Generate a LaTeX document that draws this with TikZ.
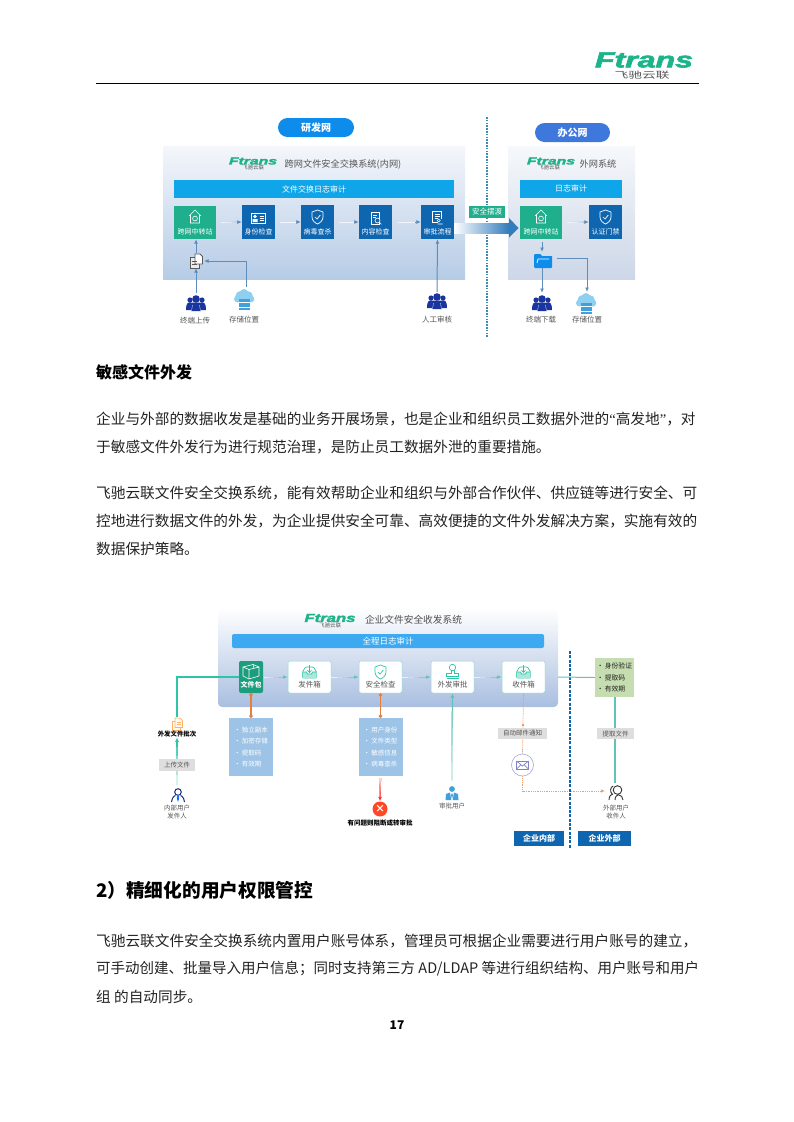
\documentclass[tikz,border=0pt]{standalone}
\usepackage{fontspec}
\usepackage{graphicx}
\setmainfont{Noto Sans CJK SC}
\newfontfamily\logofont[FakeBold=2.5,UprightFont={* Bold Italic}]{Liberation Sans}
\newfontfamily\serifq{Liberation Serif}
\usetikzlibrary{arrows.meta,calc,shapes.geometric}
\definecolor{ftgreen}{HTML}{1DB48A}
\definecolor{boxgreen}{HTML}{1FAF8C}
\definecolor{boxblue}{HTML}{0F66B0}
\definecolor{barblue}{HTML}{0FA5E9}
\definecolor{navy}{HTML}{1A35A0}
\definecolor{teal1}{HTML}{2EC4A6}
\definecolor{teal2}{HTML}{62C3B8}
\definecolor{arrowblue}{HTML}{5F8DBB}
\definecolor{orange1}{HTML}{E67E3C}
\definecolor{listblue}{HTML}{9DC3E6}
\definecolor{greybox}{HTML}{DEDEDE}
\definecolor{txt}{HTML}{222222}
\definecolor{soft}{HTML}{555555}
\definecolor{cloudc}{HTML}{8FD0F0}
\definecolor{stripec}{HTML}{3FA0DC}
\newcommand{\px}[1]{\fontsize{#1pt}{#1pt}\selectfont}
\newcommand{\ftlogo}[2]{\resizebox{#1pt}{#2pt}{\logofont Ftrans}}
% gradient connector: options, from, to, colour, background
\newcommand{\fadearrow}[5][]{%
  \draw[#1,-{Latex[length=4.5pt,width=4pt]},color=#4] (#2) -- (#3);
  \foreach \t/\p in {0.8/80,0.6/60,0.4/40,0.2/20}{
    \draw[#1,color=#4!\p!#5] (#2) -- ($(#2)!\t!(#3)$);
  }%
}
\tikzset{
  body/.style={anchor=west,inner sep=0pt,font=\px{14.66},text=txt},
  pill/.style={rounded corners=9.5pt,text=white,font=\px{10}\bfseries,minimum height=19pt,inner sep=0pt},
  blockbar/.style={text=white,font=\px{8},inner sep=0pt,minimum height=18pt},
  gbox/.style={fill=boxgreen,text=white,font=\px{7},inner sep=0pt,minimum width=42pt,minimum height=33pt},
  bbox/.style={fill=boxblue,text=white,font=\px{7},inner sep=0pt,minimum width=33pt,minimum height=34pt},
  wbox/.style={fill=white,draw=teal2!70,line width=.5pt,rounded corners=2pt,text=soft,font=\px{7.5},inner sep=0pt,minimum width=43pt,minimum height=32pt},
  lab/.style={font=\px{7.5},text=soft,inner sep=0pt},
  lab2/.style={font=\px{6.5},text=soft,inner sep=0pt,align=center},
  greytag/.style={fill=greybox,font=\px{6.5},text=soft,inner sep=0pt},
  listbox/.style={fill=listblue,text=white,font=\px{6.5},inner sep=0pt,minimum width=44pt,minimum height=58pt,align=left},
  connb/.style={line width=.7pt,color=arrowblue},
  orangedot/.style={dash pattern=on 1pt off .8pt,line width=.7pt,color=orange1!75!white},
  iconw/.style={draw=white,line width=.6pt,fill=none},
  houseicon/.pic={
    \draw[iconw] (-6,-1) -- (0,-7) -- (6,-1) (-4.5,-2) -- (-4.5,6) -- (4.5,6) -- (4.5,-2);
    \draw[iconw] (0,1.5) circle (2.4);
  },
  idicon/.pic={
    \draw[iconw] (-7,-5) rectangle (7,5);
    \fill[white] (-3.5,-1.5) circle (1.8) (-6,4) rectangle (-1,1);
    \draw[iconw] (1,-2) -- (5,-2) (1,0) -- (5,0) (1,2) -- (5,2);
  },
  shieldicon/.pic={
    \draw[pic actions,line width=.7pt,fill=none] (0,-7) -- (5.5,-5) -- (5.5,0) .. controls (5.5,4) and (2,6) .. (0,7) .. controls (-2,6) and (-5.5,4) .. (-5.5,0) -- (-5.5,-5) -- cycle;
    \draw[pic actions,line width=.7pt,fill=none] (-2.5,0) -- (-.5,2) -- (2.8,-2);
  },
  docicon/.pic={
    \draw[iconw] (-4.5,-6) rectangle (3.5,6);
    \draw[iconw] (-2.5,-3) -- (1.5,-3) (-2.5,-.5) -- (.5,-.5);
    \draw[iconw,fill=boxblue] (2,2.5) circle (2.5);
    \draw[iconw] (3.8,4.3) -- (5.8,6.3);
  },
  procicon/.pic={
    \draw[iconw] (-5,-6) rectangle (4,5);
    \draw[iconw] (-3,-3.5) -- (2,-3.5) (-3,-1.2) -- (2,-1.2) (-3,1) -- (0,1);
    \fill[boxblue] (0,1) rectangle (6,7);
    \draw[iconw] (1.3,3) circle (1.5) (0,6.5) -- (5,6.5);
  },
  userdark/.pic={
    \fill[navy] (-6,-3) circle (2.6) (6,-3) circle (2.6);
    \fill[navy] (-10,7) .. controls (-10,0) and (-8,-1) .. (-5,-.5) -- (5,-.5) .. controls (8,-1) and (10,0) .. (10,7) -- cycle;
    \fill[navy] (0,-4) circle (3.8);
    \fill[navy] (-5,8) .. controls (-5,1) and (-3,-.2) .. (0,-.2) .. controls (3,-.2) and (5,1) .. (5,8) -- cycle;
    \draw[white,line width=.3pt] (-4.5,8) -- (-3.5,2) (4.5,8) -- (3.5,2);
  },
  storeicon/.pic={
    \fill[cloudc] (-3.5,-4) circle (5) (3.5,-3.5) circle (5.5) (0,-7) circle (4) (-6.5,-1) circle (3.5) (6.8,-1) circle (3.5);
    \fill[stripec] (-5.5,-1.5) rectangle (5.5,2);
    \fill[stripec] (-5.5,3) rectangle (5.5,6.5);
    \fill[stripec] (-5.5,7.5) rectangle (5.5,10);
  },
  fileicon/.pic={
    \draw[line width=.8pt,draw=gray!70!black,fill=gray!15] (-6,-4) rectangle (3,7);
    \draw[line width=.8pt,draw=gray!70!black,fill=white] (-1,-7) -- (4,-7) -- (6.5,-4.5) -- (6.5,3) -- (-1,3) -- cycle;
    \draw[gray!70!black,line width=.6pt] (-4,0) -- (1,0) (-4,3) -- (1,3);
  },
  foldericon/.pic={
    \fill[barblue!85!blue] (-9,-7) -- (-3,-7) -- (-1,-5) -- (9,-5) [rounded corners=1pt] -- (9,7) -- (-9,7) -- cycle;
    \draw[white,line width=.8pt] (-6,2) -- (-5,-2) -- (6,-2);
  },
  boxicon/.pic={
    \draw[iconw] (-8,-5) -- (2,-7.5) -- (8,-5) -- (8,4) -- (-2,7) -- (-8,4) -- cycle;
    \draw[iconw] (-8,-5) -- (-2,-2.5) -- (8,-5) (-2,-2.5) -- (-2,7) (2,-7.5) -- (3,-3.6);
  },
  trayicon/.pic={
    \draw[teal1,line width=.7pt,rounded corners=1pt] (-7,0) -- (-4,-5) -- (4,-5) -- (7,0) -- (7,6) -- (-7,6) -- cycle;
    \fill[teal1!40] (-7,0) -- (-3,0) -- (-2,2) -- (2,2) -- (3,0) -- (7,0) -- (7,6) -- (-7,6) -- cycle;
    \draw[teal1,line width=.7pt] (-7,0) -- (-3,0) -- (-2,2) -- (2,2) -- (3,0) -- (7,0);
    \draw[teal1,line width=.7pt] (0,-7) -- (0,.5) (-2,-1.8) -- (0,.5) -- (2,-1.8);
  },
  stampicon/.pic={
    \draw[teal1,line width=.7pt] (0,-3.5) circle (3.2);
    \draw[teal1,line width=.7pt] (-1.5,-.7) -- (-1.5,2) -- (-6,2) -- (-6,5) -- (6,5) -- (6,2) -- (1.5,2) -- (1.5,-.7);
    \draw[teal1,line width=.7pt] (-6,7) -- (6,7);
  },
  person/.pic={
    \draw[line width=1pt,draw=navy!80!black] (0,-3) circle (3.3);
    \draw[line width=1pt,draw=navy!80!black] (-6.5,7) .. controls (-6,2) and (-3,.5) .. (-2.5,.5) (6.5,7) .. controls (6,2) and (3,.5) .. (2.5,.5);
    \fill[blue!60!cyan] (0,2) circle (1.3) (-1.2,3) -- (1.2,3) -- (0,7) -- cycle;
  },
  approver/.pic={
    \fill[stripec] (0,-4) circle (2.9);
    \fill[stripec] (-6.5,7) -- (-6,1) -- (-2,-.5) -- (-.7,7) -- cycle (6.5,7) -- (6,1) -- (2,-.5) -- (.7,7) -- cycle;
    \fill[stripec] (0,0) -- (-1,2) -- (0,6) -- (1,2) -- cycle;
  },
  outperson/.pic={
    \draw[line width=.9pt,draw=black!80] (1.5,-3) circle (4.3);
    \draw[line width=.9pt,draw=black!80] (-2.8,-7) .. controls (-6,-6) and (-6,-1) .. (-4,1) (-7,7) .. controls (-7,3) and (-5,1) .. (-3,1);
    \draw[line width=.9pt,draw=black!80] (-1,7) .. controls (-1,3.5) and (1,2) .. (2.5,1.8) .. controls (5,2) and (7,4) .. (7,7);
  },
  mailicon/.pic={
    \draw[draw=blue!40!gray!70,line width=.7pt] (-6,-4) rectangle (6,4);
    \draw[draw=blue!40!gray!70,line width=.7pt] (-6,-4) -- (0,1) -- (6,-4) (-6,4) -- (-1.5,-.3) (6,4) -- (1.5,-.3);
  },
  docorange/.pic={
    \draw[orange!60,line width=.7pt] (-4.5,-3) rectangle (3.5,6);
    \draw[orange!60,line width=.7pt,fill=orange!5] (-2,-6) -- (3,-6) -- (5.5,-3.5) -- (5.5,3.5) -- (-2,3.5) -- cycle;
    \draw[orange!60,line width=.5pt] (-.5,-2) -- (3.5,-2) (-.5,0) -- (3.5,0);
  }
}
\begin{document}
\begin{tikzpicture}[x=1pt,y=-1pt]
\useasboundingbox (0,0) rectangle (793,1122);
% header
\draw[black,line width=.9pt] (96,83) -- (699,83);
\node[text=ftgreen,inner sep=0pt] (toplogo) at (644,60) {\ftlogo{98}{15}};
\node[text=soft,inner sep=0pt] (topcn) at (642,75.5) {\resizebox{55pt}{7.5pt}{飞驰云联}};
% page text
\node[body,font=\px{16}\bfseries,text=black] (h1) at (96,372) {敏感文件外发};
\node[body] (p1) at (96,419) {企业与外部的数据收发是基础的业务开展场景，也是企业和组织员工数据外泄的{\serifq “}高发地{\serifq ”}，对};
\node[body] (p2) at (96,447) {于敏感文件外发行为进行规范治理，是防止员工数据外泄的重要措施。};
\node[body] (p3) at (96,493) {飞驰云联文件安全交换系统，能有效帮助企业和组织与外部合作伙伴、供应链等进行安全、可};
\node[body] (p4) at (96,521) {控地进行数据文件的外发，为企业提供安全可靠、高效便捷的文件外发解决方案，实施有效的};
\node[body] (p5) at (96,549) {数据保护策略。};
\node[body,font=\px{18.7}\bfseries,text=black] (h2) at (96,890) {2）精细化的用户权限管控};
\node[body] (p6) at (96,941) {飞驰云联文件安全交换系统内置用户账号体系，管理员可根据企业需要进行用户账号的建立，};
\node[body,font=\px{14.5}] (p7) at (96,969) {可手动创建、批量导入用户信息；同时支持第三方 AD/LDAP 等进行组织结构、用户账号和用户};
\node[body] (p8) at (96,997) {组 的自动同步。};
\node[font=\px{12}\bfseries,text=black,inner sep=0pt] (pg) at (397,1025) {17};

% ---------- upper diagram ----------
\shade[top color={rgb,255:red,244;green,246;blue,251},bottom color={rgb,255:red,182;green,204;blue,230}] (163,146) rectangle (465,279);
\shade[top color={rgb,255:red,246;green,248;blue,251},bottom color={rgb,255:red,205;green,215;blue,232}] (508,146) rectangle (635,279);
\node[pill,fill=barblue!85!blue,minimum width=76pt] (rd) at (316,127.5) {研发网};
\node[pill,fill={rgb,255:red,63;green,120;blue,221},minimum width=75pt] (of) at (572.5,132.5) {办公网};
\draw[line width=1.3pt,dash pattern=on 1.6pt off 1.2pt,color={rgb,255:red,58;green,143;blue,176}] (487,117) -- (487,337);
% logos
\node[text=ftgreen,inner sep=0pt] (l1) at (253,161) {\ftlogo{48}{7}};
\node[font=\px{5.5},text=soft,inner sep=0pt] (l1b) at (253,167.5) {飞驰云联};
\node[font=\px{9.2},text=soft,inner sep=0pt] (t1) at (343,164) {跨网文件安全交换系统(内网)};
\node[text=ftgreen,inner sep=0pt] (l2) at (551,161) {\ftlogo{48}{7}};
\node[font=\px{5.5},text=soft,inner sep=0pt] (l2b) at (549,167.5) {飞驰云联};
\node[font=\px{9.2},text=soft,inner sep=0pt] (t2) at (598,164) {外网系统};
% bars
\node[blockbar,fill=barblue,minimum width=280pt] (b1) at (314,189) {文件交换日志审计};
\node[blockbar,fill=barblue,minimum width=102pt] (b2) at (571,188.5) {日志审计};
% boxes
\node[gbox] (u1) at (195,222.5) {};
\node[bbox] (u2) at (258.5,222) {};
\node[bbox] (u3) at (317.5,222) {};
\node[bbox] (u4) at (375.5,222) {};
\node[bbox] (u5) at (437.5,222) {};
\node[gbox] (u6) at (541,222.5) {};
\node[bbox] (u7) at (605.5,222) {};
\node[font=\px{7},text=white,inner sep=0pt] (u1t) at (195,232) {跨网中转站};
\node[font=\px{7},text=white,inner sep=0pt] (u2t) at (258.5,232) {身份检查};
\node[font=\px{7},text=white,inner sep=0pt] (u3t) at (317.5,232) {病毒查杀};
\node[font=\px{7},text=white,inner sep=0pt] (u4t) at (375.5,232) {内容检查};
\node[font=\px{7},text=white,inner sep=0pt] (u5t) at (437.5,232) {审批流程};
\node[font=\px{7},text=white,inner sep=0pt] (u6t) at (541,232) {跨网中转站};
\node[font=\px{7},text=white,inner sep=0pt] (u7t) at (605.5,232) {认证门禁};
\pic at (195,217) {houseicon};
\pic at (258.5,218) {idicon};
\pic[draw=white] at (317.5,217) {shieldicon};
\pic at (375.5,218) {docicon};
\pic at (437.5,217.5) {procicon};
\pic at (541,217) {houseicon};
\pic[draw=white] at (605.5,217) {shieldicon};
% connectors
\fadearrow[line width=.8pt,shorten <=6pt]{u1.east}{u2.west}{arrowblue}{blue!6!white}
\fadearrow[line width=.8pt,shorten <=6pt]{u2.east}{u3.west}{arrowblue}{blue!6!white}
\fadearrow[line width=.8pt,shorten <=6pt]{u3.east}{u4.west}{arrowblue}{blue!6!white}
\fadearrow[line width=.8pt,shorten <=8pt]{u4.east}{u5.west}{arrowblue}{blue!6!white}
\fadearrow[line width=.8pt,shorten <=5pt]{u6.east}{u7.west}{arrowblue}{blue!6!white}
% big arrow
\shade[left color=white,right color=boxblue!85] (454,223) rectangle (509,233);
\fill[boxblue!85] (509,218) -- (518.5,228) -- (509,237.5) -- cycle;
\node[fill=boxgreen,text=white,font=\px{7.5},inner sep=0pt,minimum width=36pt,minimum height=12pt] (ferry) at (487,212) {安全摆渡};
% file icon
\coordinate (fi) at (196,261);
\pic at (fi) {fileicon};
\coordinate (fiT) at (196,253);
\coordinate (fiB) at (196,268);
\coordinate (fiR) at (204,261);
\coordinate (ua) at (196,293);
\coordinate (sa) at (246,287);
\coordinate (ha) at (437,292);
\draw[connb,line width=.9pt,-{Latex[length=4.5pt,width=4pt]}] (fiT) -- (u1.south -| fiT);
\draw[connb,line width=1pt,-{Latex[length=4.5pt,width=4pt]}] (ua) -- (fiB);
\draw[connb,line width=1pt,-{Latex[length=4.5pt,width=4pt]}] (sa) |- (fiR);
\draw[connb,line width=1pt,-{Latex[length=4.5pt,width=4pt]}] (ha) -- (u5.south);
\pic at (196,303) {userdark};
\pic at (244,300) {storeicon};
\pic at (437,301) {userdark};
\node[lab] (a1) at (195,321) {终端上传};
\node[lab] (a2) at (244,320) {存储位置};
\node[lab] (a3) at (437,319.5) {人工审核};
% right side lower
\pic at (543,261) {foldericon};
\coordinate (fdT) at (542,252);
\coordinate (fdB) at (542,268);
\coordinate (fdR) at (557,258);
\coordinate (ub) at (542,293);
\coordinate (sb) at (587,292);
\draw[connb,line width=.9pt,-{Latex[length=4.5pt,width=4pt]}] (u6.south) ++(1,3) -- (fdT);
\draw[connb,line width=1pt,-{Latex[length=4.5pt,width=4pt]}] (fdB) -- (ub);
\draw[connb,line width=1pt,-{Latex[length=4.5pt,width=4pt]}] (fdR) -| (sb);
\pic at (542,303) {userdark};
\pic at (586,304) {storeicon};
\node[lab] (a4) at (541,320) {终端下载};
\node[lab] (a5) at (587,320) {存储位置};

% ---------- lower diagram ----------
\shade[rounded corners=4pt,top color=white,bottom color={rgb,255:red,169;green,190;blue,224}] (218,608) rectangle (558,707);
\node[text=ftgreen,inner sep=0pt] (l3) at (330,618) {\ftlogo{51}{8}};
\node[font=\px{5.5},text=soft,inner sep=0pt] (l3b) at (330,625) {飞驰云联};
\node[font=\px{9.7},text=txt!80,inner sep=0pt] (t3) at (413.5,620) {企业文件安全收发系统};
\node[rounded corners=2pt,fill={rgb,255:red,61;green,169;blue,240},text=white,font=\px{8.5},inner sep=0pt,minimum width=312pt,minimum height=14pt] (b3) at (388,641) {全程日志审计};
\node[fill=boxgreen!90!black,rounded corners=2pt,text=white,font=\px{7}\bfseries,inner sep=0pt,minimum width=24pt,minimum height=32pt] (w1) at (251,677) {};
\node[font=\px{7}\bfseries,text=white,inner sep=0pt] (w1t) at (251,685) {文件包};
\pic at (251,672) {boxicon};
\node[wbox] (w2) at (309.5,677) {};
\node[wbox] (w3) at (380.5,677) {};
\node[wbox] (w4) at (452.5,677) {};
\node[wbox] (w5) at (523.5,677) {};
\node[lab] (w2t) at (309.5,685) {发件箱};
\node[lab] (w3t) at (380.5,685) {安全检查};
\node[lab] (w4t) at (452.5,685) {外发审批};
\node[lab] (w5t) at (523.5,685) {收件箱};
\pic at (309.5,672) {trayicon};
\pic[draw=teal1] at (380.5,672) {shieldicon};
\pic at (452.5,671) {stampicon};
\pic at (523.5,672) {trayicon};
\fadearrow[line width=.9pt,shorten <=1pt]{w1.east}{w2.west}{teal2}{white}
\fadearrow[line width=.9pt]{w2.east}{w3.west}{teal2}{white}
\fadearrow[line width=.9pt]{w3.east}{w4.west}{teal2}{white}
\fadearrow[line width=.9pt]{w4.east}{w5.west}{teal2}{white}
% left feed
\coordinate (subTop) at (177,717);
\draw[teal1,line width=1.2pt] (w1.west) -| (subTop);
\pic at (177,724) {docorange};
\node[font=\px{6.4}\bfseries,text=black,inner sep=0pt] (subm) at (177,734) {外发文件批次};
\coordinate (inUser) at (177,785);
\fadearrow[line width=1.2pt]{inUser}{subm.south}{teal1}{white}
\node[greytag,minimum width=36pt,minimum height=12pt] (upl) at (177,765) {上传文件};
\pic at (178,795) {person};
\node[lab2] (inL) at (177,812) {内部用户\\[1pt]发件人};
% list boxes
\node[listbox] (lb1) at (251,747) {•\,独立副本\\[5pt]•\,加密存储\\[5pt]•\,提取码\\[5pt]•\,有效期};
\node[listbox] (lb2) at (380.5,747) {•\,用户身份\\[5pt]•\,文件类型\\[5pt]•\,敏感信息\\[5pt]•\,病毒查杀};
\draw[orange1,line width=1.1pt,{Circle[length=3.5pt]}-{Circle[length=3.5pt]}] (w1.south) -- (lb1.north);
\draw[orange1,line width=1.1pt,{Circle[length=3.5pt]}-{Circle[length=3.5pt]}] (w3.south) -- (lb2.north);
\node[circle,fill=red!70!orange!85,inner sep=0pt,minimum size=15pt,text=white,font=\px{10}\bfseries] (stop) at (380,809) {×};
\fadearrow[line width=1.2pt,shorten <=2pt]{lb2.south}{stop.north}{red!75!pink}{white}
\node[font=\px{6.5}\bfseries,text=black,inner sep=0pt] (stopt) at (380,823) {有问题则阻断或转审批};
% approver
\coordinate (apU) at (452,780);
\fadearrow[line width=1.3pt]{apU}{w4.south}{teal2}{white}
\pic at (452,793) {approver};
\node[lab2] (apL) at (452,806) {审批用户};
% notification
\node[circle,draw=blue!40!gray!50,fill=white,line width=.6pt,inner sep=0pt,minimum size=22pt] (mail) at (522.5,765) {};
\pic at (522.5,765) {mailicon};
\draw[orangedot] (w5.south) -- (mail.north);
\fill[orange1] (523,725) circle (1.1);
\node[greytag,minimum width=49pt,minimum height=11pt] (note) at (522.5,733.5) {自动邮件通知};
\coordinate (rcv) at (605,791);
\draw[orangedot,-{Latex[length=4pt,width=3.5pt]}] (mail.south) |- (rcv);
% divider
\draw[boxblue,line width=1.3pt,dash pattern=on 3pt off 1.3pt] (570,651) -- (570,848);
% outer
\node[fill={rgb,255:red,197;green,221;blue,176},text=txt,font=\px{6.8},inner sep=0pt,minimum width=39pt,minimum height=39pt,align=left] (gb) at (614.5,677.5) {•\,身份验证\\[5pt]•\,提取码\\[5pt]•\,有效期};
\draw[teal2,line width=1pt] (558,677) -- (gb.west);
\coordinate (ouU) at (615,783);
\draw[teal2,line width=1.2pt] (gb.south -| ouU) -- (ouU);
\node[greytag,minimum width=37pt,minimum height=11pt] (pick) at (615.5,733.5) {提取文件};
\pic at (616,793) {outperson};
\node[lab2] (ouL) at (616,812) {外部用户\\[1pt]收件人};
\node[fill=boxblue,text=white,font=\px{8}\bfseries,inner sep=0pt,minimum width=50pt,minimum height=15pt] (ein) at (539,838.5) {企业内部};
\node[fill=boxblue,text=white,font=\px{8}\bfseries,inner sep=0pt,minimum width=53pt,minimum height=15pt] (eout) at (604.5,838.5) {企业外部};
\end{tikzpicture}
\end{document}
